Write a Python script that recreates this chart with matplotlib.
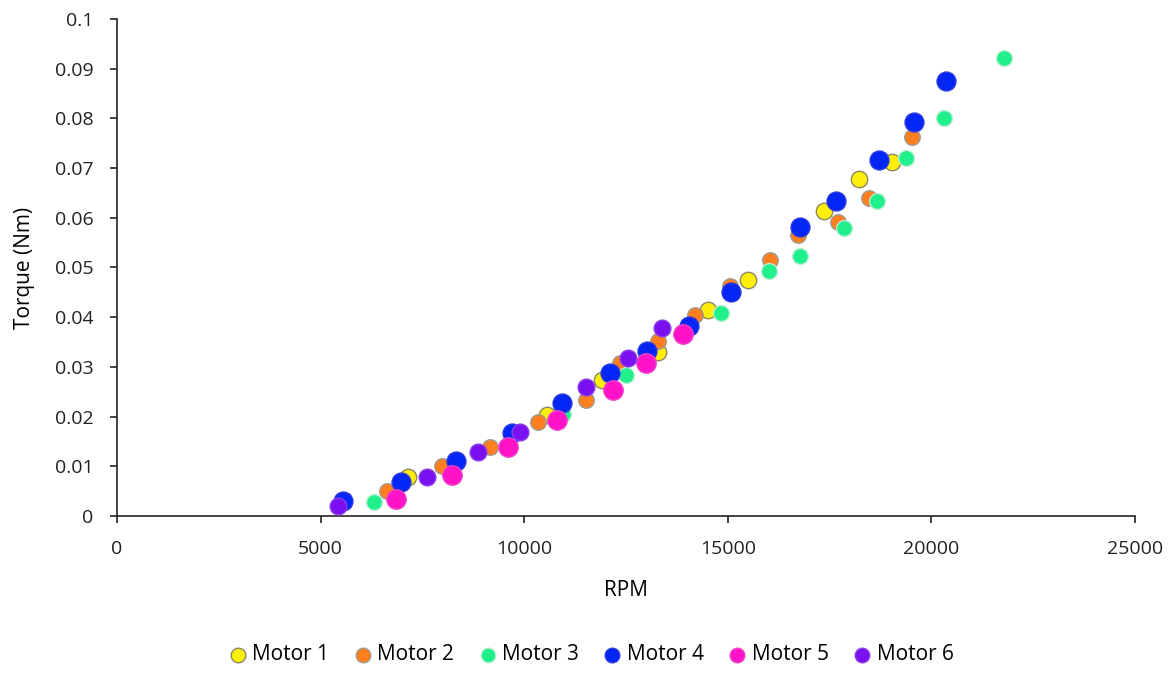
import matplotlib
matplotlib.use("Agg")
import matplotlib.pyplot as plt

plt.rcParams['font.family'] = ['Open Sans', 'DejaVu Sans']

# Speed (RPM) and torque (Nm) measurements per motor
m1_rpm = [7150, 10560, 11910, 13290, 14510, 15500, 17360, 18220, 19030]
m1_tq = [0.0078, 0.0203, 0.0274, 0.0330, 0.0414, 0.0475, 0.0614, 0.0678, 0.0712]

m2_rpm = [6630, 7980, 9160, 10340, 11520, 12350, 13290, 14190, 15050, 16040, 16720, 17710, 18470, 19520]
m2_tq = [0.0050, 0.0101, 0.0139, 0.0189, 0.0233, 0.0308, 0.0352, 0.0404, 0.0462, 0.0515, 0.0566, 0.0592, 0.0640, 0.0763]

m3_rpm = [6310, 10950, 12500, 14830, 16010, 16770, 17850, 18660, 19380, 20310, 21780]
m3_tq = [0.0028, 0.0205, 0.0284, 0.0408, 0.0493, 0.0523, 0.0580, 0.0634, 0.0720, 0.0800, 0.0922]

m4_rpm = [5550, 6970, 8330, 9700, 10930, 12110, 13020, 14050, 15080, 16770, 17660, 18710, 19570, 20360]
m4_tq = [0.0030, 0.0068, 0.0111, 0.0167, 0.0227, 0.0288, 0.0332, 0.0382, 0.0451, 0.0582, 0.0634, 0.0716, 0.0793, 0.0875]

m5_rpm = [6850, 8230, 9600, 10810, 12180, 12990, 13900]
m5_tq = [0.0034, 0.0082, 0.0139, 0.0193, 0.0254, 0.0308, 0.0366]

m6_rpm = [5430, 7610, 8870, 9900, 11520, 12550, 13380]
m6_tq = [0.0020, 0.0078, 0.0129, 0.0169, 0.0260, 0.0318, 0.0378]

labels = ["Motor 1", "Motor 2", "Motor 3", "Motor 4", "Motor 5", "Motor 6"]
series = [(m1_rpm, m1_tq), (m2_rpm, m2_tq), (m3_rpm, m3_tq),
          (m4_rpm, m4_tq), (m5_rpm, m5_tq), (m6_rpm, m6_tq)]

colors = ["#FFEE0A", "#FF7F1E", "#1FF08C", "#0426F5", "#FF12C8", "#7A10F0"]
edges = ["#8C8760", "#A09A90", "#B8EED0", "#2A3AE0", "#F040C8", "#8A40E8"]
sizes = [140, 125, 130, 185, 195, 145]

fig = plt.figure(figsize=(11.74, 6.75), dpi=100)
ax = fig.add_axes([0.0997, 0.2356, 0.8671, 0.7363])

for (x, y), lab, c, ec, s in zip(series, labels, colors, edges, sizes):
    ax.scatter(x, y, s=s, color=c, edgecolors=ec, linewidths=1.0, label=lab, zorder=3)

ax.set_xlim(0, 25000)
ax.set_ylim(0, 0.1)
ax.set_xticks([0, 5000, 10000, 15000, 20000, 25000])
ax.set_yticks([0, 0.01, 0.02, 0.03, 0.04, 0.05, 0.06, 0.07, 0.08, 0.09, 0.1])
ax.set_yticklabels(["0", "0.01", "0.02", "0.03", "0.04", "0.05", "0.06",
                    "0.07", "0.08", "0.09", "0.1"])
ax.tick_params(axis='both', labelsize=14, direction='out', length=5, width=1.2,
               colors='#222222')
ax.tick_params(axis='y', pad=12)
ax.tick_params(axis='x', pad=12)
for side in ("top", "right"):
    ax.spines[side].set_visible(False)
for side in ("left", "bottom"):
    ax.spines[side].set_linewidth(1.2)
    ax.spines[side].set_color('#222222')

ax.set_xlabel("RPM", fontsize=15, labelpad=16)
ax.set_ylabel("Torque (Nm)", fontsize=15, labelpad=14)

leg = fig.legend(loc='center', bbox_to_anchor=(0.503, 0.03), ncol=6, frameon=False,
                 fontsize=15, handlelength=1.0, handletextpad=0.2,
                 columnspacing=1.1, scatterpoints=1)
for h in leg.legend_handles:
    h.set_sizes([110])

fig.savefig("out.png", dpi=100, facecolor='white')
